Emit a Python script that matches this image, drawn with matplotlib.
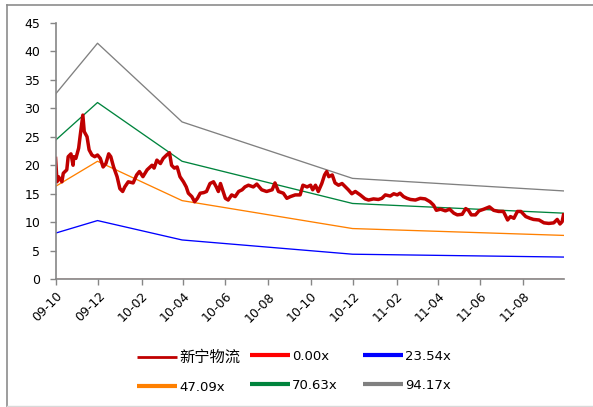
import matplotlib
matplotlib.use("Agg")
import matplotlib.pyplot as plt
import matplotlib.dates as mdates
from matplotlib.lines import Line2D
import pandas as pd

plt.rcParams["font.family"] = ["DejaVu Sans", "Noto Sans CJK SC"]

# 新宁物流 股价 (读图估计的转折点)
price_dates = [
    "2009-10-01", "2009-10-03", "2009-10-05", "2009-10-10", "2009-10-12", "2009-10-17",
    "2009-10-19", "2009-10-23", "2009-10-26", "2009-10-27", "2009-10-30", "2009-11-03",
    "2009-11-05", "2009-11-09", "2009-11-11", "2009-11-15", "2009-11-18", "2009-11-22",
    "2009-11-26", "2009-11-30", "2009-12-04", "2009-12-08", "2009-12-12", "2009-12-16",
    "2009-12-19", "2009-12-23", "2009-12-28", "2010-01-01", "2010-01-05", "2010-01-08",
    "2010-01-13", "2010-01-20", "2010-01-25", "2010-01-29", "2010-02-03", "2010-02-09",
    "2010-02-16", "2010-02-19", "2010-02-23", "2010-02-28", "2010-03-04", "2010-03-09",
    "2010-03-13", "2010-03-16", "2010-03-20", "2010-03-24", "2010-03-28", "2010-04-02",
    "2010-04-06", "2010-04-09", "2010-04-14", "2010-04-18", "2010-04-22", "2010-04-26",
    "2010-05-01", "2010-05-05", "2010-05-10", "2010-05-15", "2010-05-19", "2010-05-22",
    "2010-05-25", "2010-05-28", "2010-06-01", "2010-06-05", "2010-06-10", "2010-06-15",
    "2010-06-20", "2010-06-25", "2010-06-29", "2010-07-04", "2010-07-11", "2010-07-16",
    "2010-07-23", "2010-07-30", "2010-08-07", "2010-08-11", "2010-08-16", "2010-08-23",
    "2010-08-28", "2010-09-02", "2010-09-09", "2010-09-16", "2010-09-20", "2010-09-26",
    "2010-10-01", "2010-10-04", "2010-10-08", "2010-10-12", "2010-10-17", "2010-10-21",
    "2010-10-24", "2010-10-27", "2010-11-01", "2010-11-05", "2010-11-10", "2010-11-15",
    "2010-11-20", "2010-11-24", "2010-11-29", "2010-12-04", "2010-12-11", "2010-12-18",
    "2010-12-23", "2010-12-30", "2011-01-06", "2011-01-11", "2011-01-16", "2011-01-23",
    "2011-01-28", "2011-02-02", "2011-02-06", "2011-02-11", "2011-02-16", "2011-02-21",
    "2011-02-28", "2011-03-07", "2011-03-14", "2011-03-21", "2011-03-26", "2011-03-30",
    "2011-04-05", "2011-04-12", "2011-04-18", "2011-04-24", "2011-04-29", "2011-05-06",
    "2011-05-11", "2011-05-15", "2011-05-19", "2011-05-25", "2011-05-30", "2011-06-06",
    "2011-06-14", "2011-06-20", "2011-06-27", "2011-07-04", "2011-07-10", "2011-07-14",
    "2011-07-19", "2011-07-24", "2011-07-29", "2011-08-05", "2011-08-11", "2011-08-16",
    "2011-08-24", "2011-08-31", "2011-09-07", "2011-09-14", "2011-09-19", "2011-09-23",
    "2011-09-26", "2011-09-28",
]
price = [
    21.2, 17.1, 18.0, 17.1, 18.6, 19.2,
    21.5, 22.0, 20.0, 21.5, 21.2, 23.0,
    25.0, 28.8, 25.9, 25.0, 22.7, 21.8,
    21.5, 21.8, 21.2, 19.7, 20.3, 22.0,
    21.5, 19.7, 18.0, 15.9, 15.4, 16.2,
    17.1, 16.9, 18.3, 18.9, 18.0, 19.2,
    20.0, 19.5, 20.9, 20.3, 21.2, 21.8,
    22.2, 20.0, 19.5, 19.7, 18.0, 17.1,
    16.2, 15.1, 14.5, 13.6, 14.2, 15.1,
    15.2, 15.4, 16.8, 17.1, 16.2, 15.4,
    16.8, 15.7, 14.2, 13.9, 14.8, 14.5,
    15.4, 15.7, 16.2, 16.5, 16.2, 16.7,
    15.7, 15.4, 15.7, 16.9, 15.4, 15.1,
    14.2, 14.5, 14.8, 14.8, 16.5, 16.2,
    16.5, 15.7, 16.5, 15.4, 16.8, 18.3,
    18.9, 18.0, 18.3, 16.9, 16.5, 16.8,
    16.2, 15.7, 15.0, 15.4, 14.8, 14.1,
    13.9, 14.1, 14.0, 14.2, 14.8, 14.6,
    15.0, 14.8, 15.1, 14.5, 14.2, 14.0,
    13.9, 14.2, 14.1, 13.6, 13.0, 12.1,
    12.3, 12.0, 12.3, 11.6, 11.3, 11.4,
    12.4, 12.1, 11.3, 11.3, 12.0, 12.3,
    12.7, 12.1, 11.9, 11.9, 10.4, 11.0,
    10.7, 11.9, 11.9, 11.0, 10.7, 10.5,
    10.4, 9.9, 9.8, 9.9, 10.5, 9.7,
    10.1, 11.3,
]

# PE 通道 (各倍数的转折点)
band_dates = ["2009-10-01", "2009-11-30", "2010-03-31", "2010-11-30", "2011-09-28"]
band_labels = ["0.00x", "23.54x", "47.09x", "70.63x", "94.17x"]
band_0 = [0.0, 0.0, 0.0, 0.0, 0.0]
band_23 = [8.1, 10.3, 6.9, 4.4, 3.9]
band_47 = [16.3, 20.7, 13.8, 8.9, 7.7]
band_70 = [24.4, 31.0, 20.7, 13.3, 11.6]
band_94 = [32.5, 41.4, 27.6, 17.7, 15.5]
band_colors = ["#FF0000", "#0000FF", "#FF8000", "#00843D", "#808080"]

W, H = 593, 407
fig = plt.figure(figsize=(W / 100, H / 100), dpi=100)
ax = fig.add_axes([55.6 / W, 1 - 279.3 / H, (563.5 - 55.6) / W, (279.3 - 22.7) / H])

bd = pd.to_datetime(band_dates)
for vals, c in zip([band_0, band_23, band_47, band_70, band_94], band_colors):
    ax.plot(bd, vals, color=c, lw=0.95, zorder=1)
ax.plot(pd.to_datetime(price_dates), price, color="#C00000", lw=2.5,
        solid_joinstyle="round", zorder=2)

ax.set_xlim(pd.Timestamp("2009-10-01"), pd.Timestamp("2011-09-28"))
ax.set_ylim(0, 45)
ax.set_yticks(range(0, 46, 5))
ax.xaxis.set_major_locator(mdates.MonthLocator(bymonth=[2, 4, 6, 8, 10, 12]))
ax.xaxis.set_major_formatter(mdates.DateFormatter("%y-%m"))

for s in ("top", "right"):
    ax.spines[s].set_visible(False)
for s in ("left", "bottom"):
    ax.spines[s].set_color("#868686")
    ax.spines[s].set_linewidth(1.2)
    ax.spines[s].set_zorder(5)
ax.tick_params(axis="both", colors="#868686", labelcolor="black", labelsize=9,
               direction="out", length=4, width=1.0)
ax.tick_params(axis="y", pad=7)
for lab in ax.get_xticklabels():
    lab.set_rotation(45)
    lab.set_ha("right")
    lab.set_rotation_mode("anchor")
ax.patch.set_visible(False)

# 图例: 三列, 每列两行 (Excel 风格等距排布)
def handle(c, lw):
    return Line2D([], [], color=c, lw=lw, solid_capstyle="butt")

cols = [
    ([handle("#C00000", 2.0), handle(band_colors[2], 3.0)], ["新宁物流", band_labels[2]]),
    ([handle(band_colors[0], 3.0), handle(band_colors[3], 3.0)], [band_labels[0], band_labels[3]]),
    ([handle(band_colors[1], 3.0), handle(band_colors[4], 3.0)], [band_labels[1], band_labels[4]]),
]
for i, (hs, ls) in enumerate(cols):
    x0 = [137, 250, 363][i]
    leg = fig.legend(hs, ls, loc="upper left", bbox_to_anchor=(x0 / W, 1 - 350 / H),
                     frameon=False, fontsize=9.5, handlelength=3.0, handletextpad=0.2,
                     labelspacing=1.2, borderpad=0, borderaxespad=0)
    if i == 0:
        leg.get_texts()[0].set_fontsize(11)

# 外框 (图表区边框)
fig.add_artist(Line2D([7 / W, 7 / W], [0, 1 - 4.5 / H], color="#8c8c8c", lw=1.2,
                      transform=fig.transFigure))
fig.add_artist(Line2D([7 / W, 1], [1 - 4.5 / H, 1 - 4.5 / H], color="#8c8c8c", lw=1.2,
                      transform=fig.transFigure))
fig.add_artist(Line2D([7 / W, 1], [1 - 406 / H, 1 - 406 / H], color="#d9d9d9", lw=1.0,
                      transform=fig.transFigure))

fig.savefig("out.png", dpi=100)
